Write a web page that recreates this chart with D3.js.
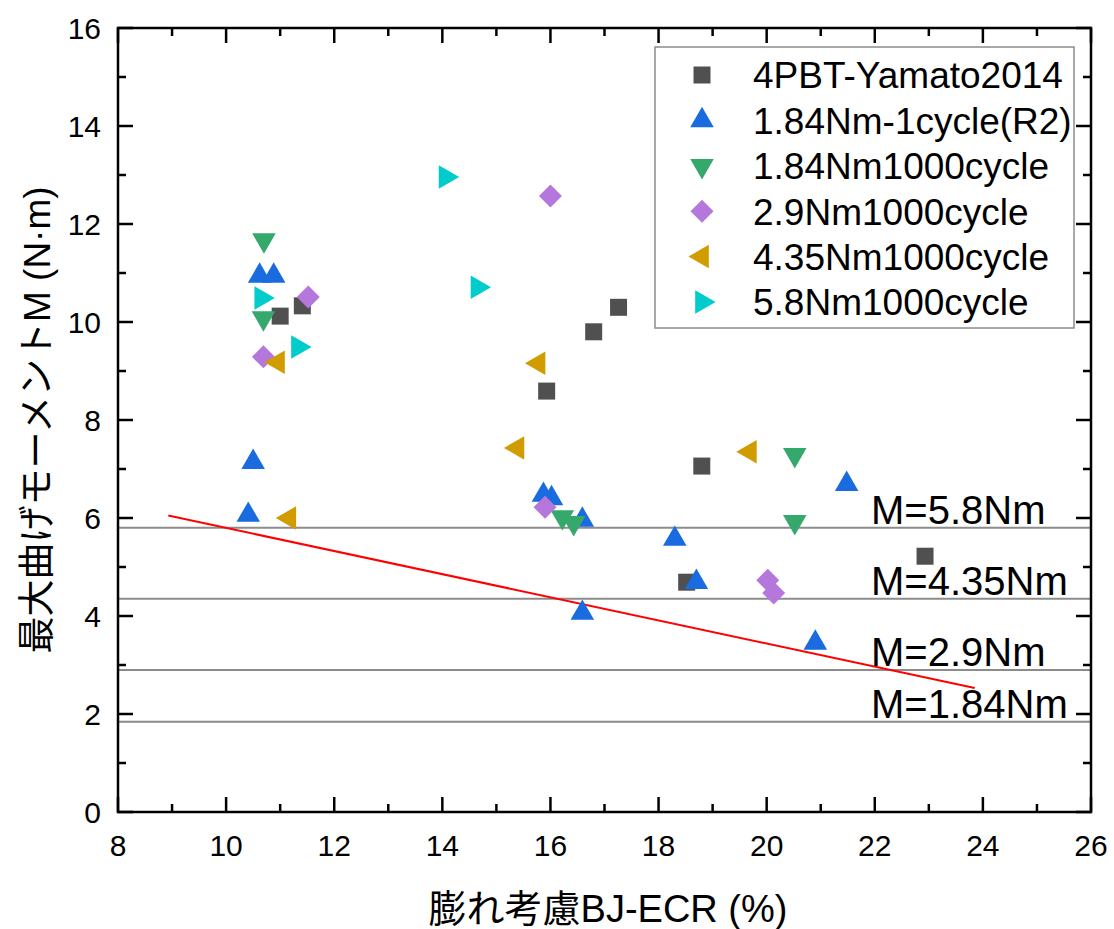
<!DOCTYPE html>
<html>
<head>
<meta charset="utf-8">
<script src="https://cdn.jsdelivr.net/npm/d3@7"></script>
<style>
  body { margin: 0; background: #fff; }
  text { font-family: "Liberation Sans", Arial, "Noto Sans CJK JP", sans-serif; fill: #000; }
</style>
</head>
<body>
<div id="chart"></div>
<script>
// *** data ***
var seriesNames = ["4PBT-Yamato2014", "1.84Nm-1cycle(R2)", "1.84Nm1000cycle",
                   "2.9Nm1000cycle", "4.35Nm1000cycle", "5.8Nm1000cycle"];
var seriesColors = ["#505050", "#1a6be0", "#34a96b", "#b677dc", "#d09c00", "#00cccc"];
var seriesShapes = ["square", "up", "down", "diamond", "left", "right"];

var yamato = [[11.0, 10.12], [11.41, 10.33], [15.93, 8.59], [16.8, 9.8], [17.26, 10.3],
              [18.8, 7.06], [18.52, 4.69], [22.93, 5.22]];
var r2cycle1 = [[10.62, 10.94], [10.88, 10.94], [10.5, 7.14], [10.41, 6.06], [15.87, 6.47],
                [16.02, 6.4], [16.59, 5.96], [16.59, 4.06], [18.3, 5.57], [18.7, 4.69],
                [21.48, 6.69], [20.9, 3.45]];
var nm184 = [[10.7, 11.67], [10.69, 10.08], [16.22, 6.02], [16.43, 5.9], [20.52, 7.29], [20.52, 5.92]];
var nm29 = [[11.52, 10.51], [10.69, 9.29], [16.0, 12.57], [15.9, 6.22], [20.02, 4.73], [20.13, 4.47]];
var nm435 = [[10.96, 9.18], [11.17, 6.0], [15.78, 9.16], [15.39, 7.43], [19.69, 7.35]];
var nm58 = [[10.65, 10.49], [11.33, 9.49], [14.06, 12.96], [14.65, 10.71]];
var seriesData = [yamato, r2cycle1, nm184, nm29, nm435, nm58];

var refLevels = [5.8, 4.35, 2.9, 1.84];
var refLabels = ["M=5.8Nm", "M=4.35Nm", "M=2.9Nm", "M=1.84Nm"];
var redLine = [[8.93, 6.05], [23.85, 2.53]];

var xTicks = [8, 10, 12, 14, 16, 18, 20, 22, 24, 26];
var yTicks = [0, 2, 4, 6, 8, 10, 12, 14, 16];

// *** layout ***
var W = 1114, H = 929;
var margin = {left: 118, top: 28, right: 1091, bottom: 812};

var x = d3.scaleLinear().domain([8, 26]).range([margin.left, margin.right]);
var y = d3.scaleLinear().domain([0, 16]).range([margin.bottom, margin.top]);

var svg = d3.select("#chart").append("svg")
    .attr("width", W).attr("height", H);

// reference lines
svg.append("g").selectAll("line").data(refLevels).enter().append("line")
    .attr("x1", x(8)).attr("x2", x(26))
    .attr("y1", function(d) { return y(d); })
    .attr("y2", function(d) { return y(d); })
    .attr("stroke", "#8c8c8c").attr("stroke-width", 2);

// red line
svg.append("path")
    .attr("d", d3.line().x(function(d) { return x(d[0]); }).y(function(d) { return y(d[1]); })(redLine))
    .attr("fill", "none").attr("stroke", "#ff0000").attr("stroke-width", 2);

// labels on ref lines
svg.append("g").selectAll("text").data(refLevels).enter().append("text")
    .attr("x", 871)
    .attr("y", function(d) { return y(d) - 4; })
    .style("font-size", "40px")
    .text(function(d, i) { return refLabels[i]; });

// *** markers ***
function markerPath(shape) {
    if (shape == "square") return d3.symbol().type(d3.symbolSquare).size(289)();
    if (shape == "diamond") return d3.symbol().type(d3.symbolSquare).size(265)();
    return d3.symbol().type(d3.symbolTriangle).size(240)();
}
function markerRot(shape) {
    return {square: 0, diamond: 45, up: 0, down: 180, left: -90, right: 90}[shape];
}

seriesData.forEach(function(data, i) {
    var shape = seriesShapes[i];
    svg.append("g").selectAll("path").data(data).enter().append("path")
        .attr("d", markerPath(shape))
        .attr("transform", function(d) {
            return "translate(" + x(d[0]) + "," + y(d[1]) + ") rotate(" + markerRot(shape) + ")";
        })
        .attr("fill", seriesColors[i]);
});

// *** axes (box with inward ticks) ***
var axes = svg.append("g");
axes.append("rect")
    .attr("x", margin.left).attr("y", margin.top)
    .attr("width", margin.right - margin.left).attr("height", margin.bottom - margin.top)
    .attr("fill", "none").attr("stroke", "#000").attr("stroke-width", 2.5);

var xMinor = d3.range(9, 26, 2), yMinor = d3.range(1, 16, 2);
function tickLines(vals, len, horizontal) {
    vals.forEach(function(v) {
        if (horizontal) {
            axes.append("line").attr("x1", x(v)).attr("x2", x(v))
                .attr("y1", margin.bottom).attr("y2", margin.bottom - len)
                .attr("stroke", "#000").attr("stroke-width", 2.5);
            axes.append("line").attr("x1", x(v)).attr("x2", x(v))
                .attr("y1", margin.top).attr("y2", margin.top + len)
                .attr("stroke", "#000").attr("stroke-width", 2.5);
        } else {
            axes.append("line").attr("y1", y(v)).attr("y2", y(v))
                .attr("x1", margin.left).attr("x2", margin.left + len)
                .attr("stroke", "#000").attr("stroke-width", 2.5);
            axes.append("line").attr("y1", y(v)).attr("y2", y(v))
                .attr("x1", margin.right).attr("x2", margin.right - len)
                .attr("stroke", "#000").attr("stroke-width", 2.5);
        }
    });
}
tickLines(xTicks, 15, true);
tickLines(xMinor, 8, true);
tickLines(yTicks, 15, false);
tickLines(yMinor, 8, false);

axes.selectAll(".xl").data(xTicks).enter().append("text")
    .attr("x", function(d) { return x(d); }).attr("y", 856)
    .attr("text-anchor", "middle").style("font-size", "30px")
    .text(function(d) { return d; });
axes.selectAll(".yl").data(yTicks).enter().append("text")
    .attr("x", 101).attr("y", function(d) { return y(d); })
    .attr("dy", "0.35em")
    .attr("text-anchor", "end").style("font-size", "30px")
    .text(function(d) { return d; });

// axis titles
svg.append("text")
    .attr("x", 608).attr("y", 922)
    .attr("text-anchor", "middle").style("font-size", "38px")
    .text("膨れ考慮BJ-ECR (%)");
svg.append("text")
    .attr("transform", "translate(50,420) rotate(-90)")
    .attr("text-anchor", "middle").style("font-size", "37px")
    .text("最大曲げモーメントM (N·m)");

// *** legend ***
var legend = svg.append("g");
legend.append("rect")
    .attr("x", 655).attr("y", 47).attr("width", 419).attr("height", 281)
    .attr("fill", "#fff").attr("stroke", "#8c8c8c").attr("stroke-width", 1.5);
seriesNames.forEach(function(name, i) {
    var cy = 75 + i * 45.4;
    var shape = seriesShapes[i];
    legend.append("path")
        .attr("d", markerPath(shape))
        .attr("transform", "translate(702," + cy + ") rotate(" + markerRot(shape) + ")")
        .attr("fill", seriesColors[i]);
    legend.append("text")
        .attr("x", 753).attr("y", cy).attr("dy", "0.36em")
        .style("font-size", "37px")
        .text(name);
});
</script>
</body>
</html>
